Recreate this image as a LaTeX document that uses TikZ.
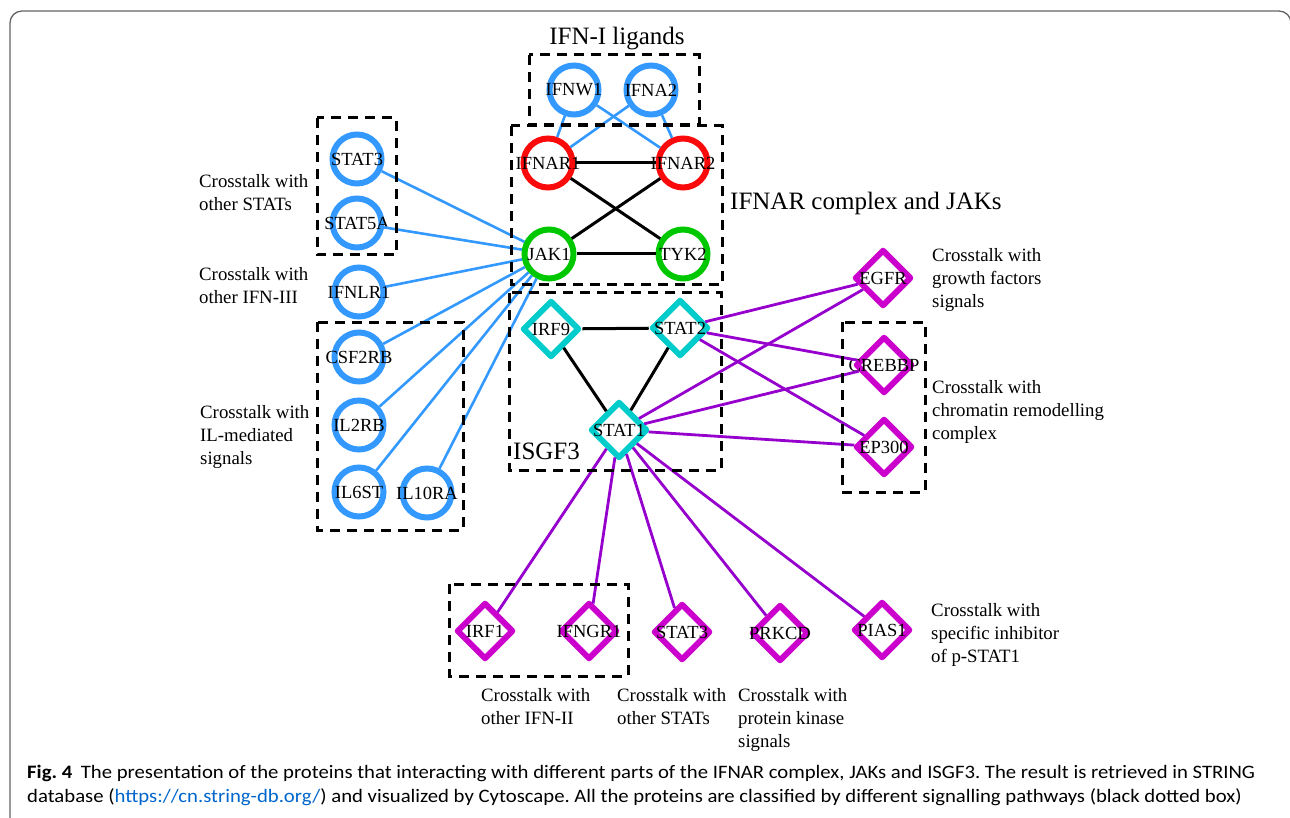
\documentclass[tikz,border=0pt]{standalone}
\usepackage{fontspec}
\setmainfont{Liberation Serif}
\newfontfamily\capfont[FakeStretch=1.09]{Carlito}
\usetikzlibrary{shapes.geometric}

\definecolor{ifnblue}{RGB}{51,153,255}
\definecolor{recred}{RGB}{250,10,10}
\definecolor{jakgreen}{RGB}{0,200,0}
\definecolor{isgcyan}{RGB}{0,204,204}
\definecolor{xmag}{RGB}{204,0,204}
\definecolor{xpurple}{RGB}{150,0,204}
\definecolor{urlblue}{RGB}{0,102,204}
\definecolor{framegray}{RGB}{100,100,100}

\newcommand\gname[1]{\makebox[0pt]{#1}}

\tikzset{
  gene/.style={draw, line width=6pt, inner sep=0pt, font=\fontsize{18.5}{18.5}\selectfont},
  rcirc/.style={gene, circle, minimum size=49pt},
  rdiam/.style={gene, diamond, aspect=1, minimum size=57pt, line join=round},
  lig/.style={rcirc, draw=ifnblue},
  rec/.style={rcirc, draw=recred},
  jak/.style={rcirc, draw=jakgreen},
  isg/.style={rdiam, draw=isgcyan},
  xtalk/.style={rdiam, draw=xmag},
  bl/.style={draw=ifnblue, line width=2.6pt},
  bk/.style={draw=black, line width=3pt},
  pp/.style={draw=xpurple, line width=2.8pt},
  grp/.style={draw, line width=3pt, dash pattern=on 10pt off 7pt},
  big/.style={inner sep=0pt, font=\fontsize{25}{30}\selectfont},
  note/.style={inner sep=0pt, anchor=north west, align=left, font=\fontsize{18.8}{23}\selectfont},
  capt/.style={inner sep=0pt, anchor=base west, font=\capfont\fontsize{19}{24}\selectfont\frenchspacing}
}

\begin{document}
\begin{tikzpicture}[x=1pt, y=-1pt]
\useasboundingbox (0,0) rectangle (1290,818);
\draw[framegray, line width=1.3pt, rounded corners=12pt] (10,11) rectangle (1291,830);

% IFN-I ligands
\node[lig] (ifnw1) at (574,90) {\gname{IFNW1}};
\node[lig] (ifna2) at (651,90) {\gname{IFNA2}};
% IFNAR complex and JAKs
\node[rec] (ifnar1) at (548,163) {\gname{IFNAR1}};
\node[rec] (ifnar2) at (683,163) {\gname{IFNAR2}};
\node[jak] (jak1) at (549,254) {\gname{JAK1}};
\node[jak] (tyk2) at (683,254) {\gname{TYK2}};
% partners of JAK1
\node[lig] (stat3a) at (357,159) {\gname{STAT3}};
\node[lig] (stat5a) at (357,223) {\gname{STAT5A}};
\node[lig] (ifnlr1) at (359,292) {\gname{IFNLR1}};
\node[lig] (csf2rb) at (359,357) {\gname{CSF2RB}};
\node[lig] (il2rb) at (359,425) {\gname{IL2RB}};
\node[lig] (il6st) at (359,492) {\gname{IL6ST}};
\node[lig] (il10ra) at (427,493) {\gname{IL10RA}};
% ISGF3
\node[isg] (irf9) at (551,329) {\gname{IRF9}};
\node[isg] (stat2) at (680,328) {\gname{STAT2}};
\node[isg] (stat1) at (619,430) {\gname{STAT1}};
% partners of STAT1/STAT2
\node[xtalk] (egfr) at (883,278) {\gname{EGFR}};
\node[xtalk] (crebbp) at (884,365) {\gname{CREBBP}};
\node[xtalk] (ep300) at (884,447) {\gname{EP300}};
\node[xtalk] (irf1) at (485,631) {\gname{IRF1}};
\node[xtalk] (ifngr1) at (589,631) {\gname{IFNGR1}};
\node[xtalk] (stat3b) at (682,632) {\gname{STAT3}};
\node[xtalk] (prkcd) at (780,633) {\gname{PRKCD}};
\node[xtalk] (pias1) at (882,630) {\gname{PIAS1}};

% edges
\draw[bl] (ifnw1) -- (ifnar1);
\draw[bl] (ifnw1) -- (ifnar2);
\draw[bl] (ifna2) -- (ifnar1);
\draw[bl] (ifna2) -- (ifnar2);
\foreach \p in {stat3a,stat5a,ifnlr1,csf2rb,il2rb,il6st,il10ra}
  \draw[bl] (\p) -- (jak1);
\draw[bk] (ifnar1) -- (ifnar2);
\draw[bk] (ifnar1) -- (tyk2);
\draw[bk] (ifnar2) -- (jak1);
\draw[bk] (jak1) -- (tyk2);
\draw[bk] (irf9) -- (stat2);
\draw[bk] (irf9) -- (stat1);
\draw[bk] (stat2) -- (stat1);
\foreach \p in {egfr,crebbp,ep300}
  \draw[pp] (stat2) -- (\p);
\foreach \p in {egfr,crebbp,ep300,irf1,ifngr1,stat3b,prkcd,pias1}
  \draw[pp] (stat1) -- (\p);

% pathway boxes
\draw[grp] (529,55) rectangle (699,125);
\draw[grp] (511,126) rectangle (722,285);
\draw[grp] (509,293) rectangle (721,470);
\draw[grp] (317,118) rectangle (396,255);
\draw[grp] (317,322) rectangle (463,530);
\draw[grp] (842,322) rectangle (925,492);
\draw[grp] (449,584) rectangle (628,676);

% titles
\node[big, anchor=base] (ligtitle) at (617,45) {IFN-I ligands};
\node[big, anchor=base west] (ifnartitle) at (730,210) {IFNAR complex and JAKs};
\node[big, anchor=base west] (isgftitle) at (513,459) {ISGF3};

% crosstalk notes
\node[note] (nstats) at (199,174) {Crosstalk with\\other STATs};
\node[note] (nifn3) at (199,267) {Crosstalk with\\other IFN-III};
\node[note] (nil) at (200,405) {Crosstalk with\\IL-mediated\\signals};
\node[note] (ngrowth) at (932,248) {Crosstalk with\\growth factors\\signals};
\node[note] (nchrom) at (932,380) {Crosstalk with\\chromatin remodelling\\complex};
\node[note] (ninhib) at (931,603) {Crosstalk with\\specific inhibitor\\of p-STAT1};
\node[note] (nifn2) at (481,688) {Crosstalk with\\other IFN-II};
\node[note] (nstats2) at (617,688) {Crosstalk with\\other STATs};
\node[note] (nkin) at (738,688) {Crosstalk with\\protein kinase\\signals};

% caption
\node[capt] (cap1) at (27,778) {\textbf{Fig. 4}\hspace{0.45em}The presentation of the proteins that interacting with different parts of the IFNAR complex, JAKs and ISGF3. The result is retrieved in STRING};
\node[capt] (cap2) at (27,802) {database (\textcolor{urlblue}{https://cn.string-db.org/}) and visualized by Cytoscape. All the proteins are classified by different signalling pathways (black dotted box)};
\end{tikzpicture}
\end{document}
